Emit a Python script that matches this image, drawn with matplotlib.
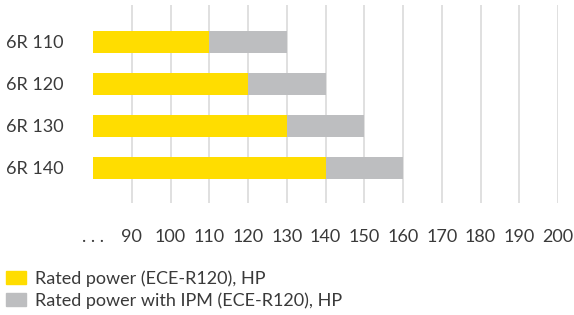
import matplotlib
matplotlib.use("Agg")
import matplotlib.pyplot as plt
from matplotlib.patches import Patch

# data
models = ["6R 110", "6R 120", "6R 130", "6R 140"]
rated_power = [110, 120, 130, 140]
ipm_boost = [20, 20, 20, 20]
x_ticks = [80, 90, 100, 110, 120, 130, 140, 150, 160, 170, 180, 190, 200]
x_tick_labels = [". . .", "90", "100", "110", "120", "130", "140", "150",
                 "160", "170", "180", "190", "200"]
legend_labels = ["Rated power (ECE-R120), HP",
                 "Rated power with IPM (ECE-R120), HP"]

YELLOW = "#FFDD00"
GREY = "#BDBEC0"
TEXT = "#3a3a3a"
FS = 13

plt.rcParams["font.family"] = ["Lato", "DejaVu Sans"]

W, H = 574, 315
fig = plt.figure(figsize=(W / 100, H / 100), dpi=100)
ax = fig.add_axes([93 / W, 1 - 203 / H, (558 - 93) / W, 198 / H])

pos = list(range(len(models)))
base = x_ticks[0]
ax.barh(pos, [v - base for v in rated_power], left=base, height=0.52,
        color=YELLOW, zorder=3)
ax.barh(pos, ipm_boost, left=rated_power, height=0.52, color=GREY, zorder=3)

ax.set_xlim(base, x_ticks[-1])
ax.set_ylim(3 + 35 / 42, -37 / 42)

ax.set_xticks(x_ticks)
ax.set_xticklabels(x_tick_labels)
for x in x_ticks[1:]:
    ax.axvline(x, color="#dddddd", lw=1.3, zorder=1)

ax.set_yticks(pos)
ax.set_yticklabels(models)
for lbl in ax.get_yticklabels():
    lbl.set_ha("left")

ax.tick_params(axis="x", length=0, pad=19, labelsize=FS, labelcolor=TEXT)
ax.tick_params(axis="y", length=0, pad=62.6, labelsize=FS, labelcolor=TEXT)
for s in ax.spines.values():
    s.set_visible(False)

handles = [Patch(color=YELLOW), Patch(color=GREY)]
fig.legend(handles, legend_labels, loc="upper left",
           bbox_to_anchor=(0 / W, 1 - 264 / H), frameon=False,
           fontsize=FS, labelcolor=TEXT, handlelength=1.1, handleheight=0.66,
           handletextpad=0.5, labelspacing=0.3, borderpad=0.35,
           borderaxespad=0)

fig.savefig("out.png", dpi=100)
